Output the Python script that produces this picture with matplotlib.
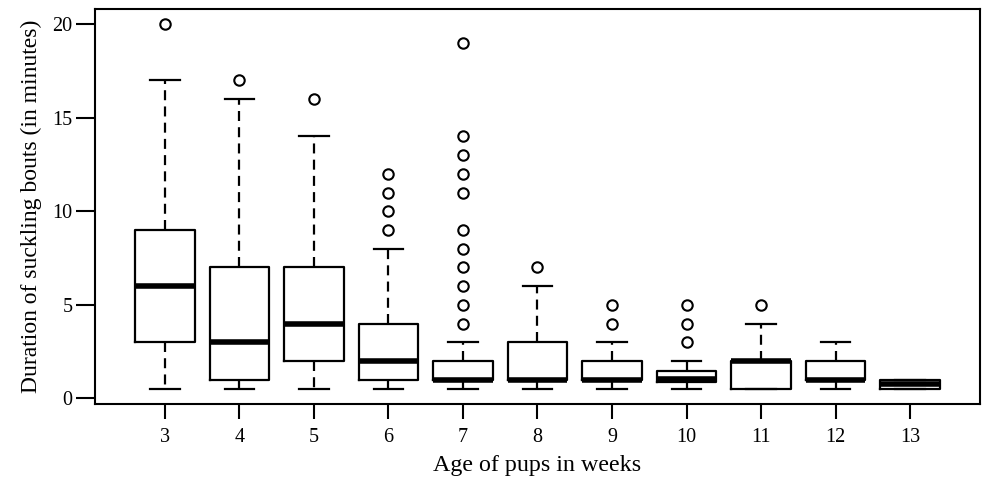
import matplotlib
matplotlib.use("Agg")
import matplotlib.pyplot as plt

weeks = ["3", "4", "5", "6", "7", "8", "9", "10", "11", "12", "13"]
whislo = [0.5, 0.5, 0.5, 0.5, 0.5, 0.5, 0.5, 0.5, 0.5, 0.5, 0.5]
q1 = [3, 1, 2, 1, 1, 1, 1, 0.9, 0.5, 1, 0.5]
med = [6, 3, 4, 2, 1, 1, 1, 1.05, 2, 1, 0.75]
q3 = [9, 7, 7, 4, 2, 3, 2, 1.45, 2, 2, 1]
whishi = [17, 16, 14, 8, 3, 6, 3, 2, 4, 3, 1]
fliers = [
    [20],
    [17],
    [16],
    [9, 10, 11, 12],
    [4, 5, 6, 7, 8, 9, 11, 12, 13, 14, 19],
    [7],
    [4, 5],
    [3, 4, 5],
    [5],
    [],
    [],
]

plt.rcParams['font.family'] = ['Liberation Serif', 'DejaVu Serif']

fig = plt.figure(figsize=(9.82, 4.86), dpi=100)
ax = fig.add_axes([0.0967, 0.1687, 0.998 - 0.0967, 0.981 - 0.1687])

stats = []
for i in range(len(weeks)):
    stats.append(dict(med=med[i], q1=q1[i], q3=q3[i], whislo=whislo[i],
                      whishi=whishi[i], fliers=fliers[i], label=weeks[i]))

ax.bxp(stats, positions=range(1, len(weeks) + 1), widths=0.8,
       showfliers=True, patch_artist=False,
       boxprops=dict(color='black', linewidth=1.6),
       medianprops=dict(color='black', linewidth=4.0, solid_capstyle='butt'),
       whiskerprops=dict(color='black', linewidth=1.6, linestyle=(0, (4.5, 2.8))),
       capprops=dict(color='black', linewidth=1.6),
       capwidths=0.4,
       flierprops=dict(marker='o', markersize=7.5, markerfacecolor='white',
                       markeredgecolor='black', markeredgewidth=1.5))

ax.set_xlim(0.06, 11.94)
ax.set_ylim(-0.3, 20.8)
ax.set_yticks([0, 5, 10, 15, 20])
ax.set_xticks(range(1, len(weeks) + 1))
ax.set_xticklabels(weeks)
for s in ax.spines.values():
    s.set_linewidth(1.5)
ax.tick_params(axis='y', length=14, width=1.5, labelsize=14.5, pad=2)
ax.tick_params(axis='x', length=11, width=1.5, labelsize=14.5, pad=6)
ax.set_xlabel("Age of pups in weeks", fontsize=17.3, labelpad=6)
ax.set_ylabel("Duration of suckling bouts (in minutes)", fontsize=17, labelpad=8)

fig.savefig("out.png", dpi=100)
